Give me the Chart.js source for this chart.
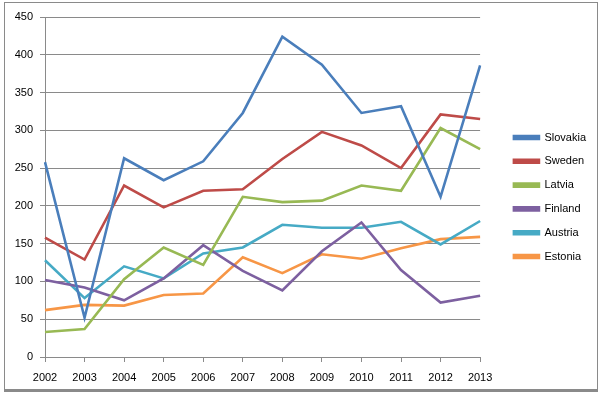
<!DOCTYPE html>
<html>
<head>
<meta charset="utf-8">
<script src="https://cdn.jsdelivr.net/npm/chart.js@4/dist/chart.umd.min.js"></script>
<style>
html,body{margin:0;padding:0;background:#fff;}
#wrap{position:relative;width:600px;height:393px;}
#frame{position:absolute;left:4px;top:2px;width:592px;height:386px;border:1px solid #8a8a8a;border-bottom:3px solid #8a8a8a;pointer-events:none;}
canvas{position:absolute;left:0;top:0;}
</style>
</head>
<body>
<div id="wrap">
<canvas id="c" width="600" height="393"></canvas>
<div id="frame"></div>
</div>
<script>
const years = ["2002","2003","2004","2005","2006","2007","2008","2009","2010","2011","2012","2013"];
const slovakia = [258, 52, 263, 234, 259, 323, 424, 387, 323, 332, 212, 386];
const sweden   = [158, 129, 227, 198, 220, 222, 262, 298, 280, 250, 321, 315];
const latvia   = [33, 37, 103, 145, 122, 212, 205, 207, 227, 220, 303, 275];
const finland  = [102, 92, 75, 104, 148, 114, 88, 140, 178, 115, 72, 81];
const austria  = [128, 78, 120, 104, 137, 145, 175, 171, 171, 179, 149, 180];
const estonia  = [62, 69, 68, 82, 84, 132, 111, 136, 130, 144, 156, 159];

const seriesNames = ["Slovakia","Sweden","Latvia","Finland","Austria","Estonia"];
const seriesData = [slovakia, sweden, latvia, finland, austria, estonia];
const seriesColors = ["#4A7EBB","#BE4B48","#98B954","#7D60A0","#46AAC5","#F79646"];

const FONT = "'Liberation Sans', Arial, sans-serif";

const shiftLegend = {
  id: 'shiftLegend',
  afterLayout(chart) {
    const lg = chart.legend;
    if (!lg) return;
    lg.left += 21; lg.right += 21;
    lg.top -= 8; lg.bottom -= 8;
  }
};

new Chart(document.getElementById('c'), {
  type: 'line',
  data: {
    labels: years,
    datasets: seriesNames.map((n,i)=>({
      label: n,
      data: seriesData[i],
      borderColor: seriesColors[i],
      backgroundColor: seriesColors[i],
      borderWidth: 2.6,
      pointRadius: 0,
      tension: 0,
      fill: false
    }))
  },
  options: {
    responsive: false,
    animation: false,
    layout: { padding: { left: 0, top: 17, right: 25, bottom: 0 } },
    plugins: {
      tooltip: { enabled: false },
      legend: {
        position: 'right',
        labels: {
          color: '#000',
          font: { family: FONT, size: 11 },
          boxWidth: 25,
          boxHeight: 3,
          padding: 12.8
        }
      }
    },
    scales: {
      x: {
        offset: false,
        afterFit(s) { s.height = 36; },
        grid: { display: true, drawOnChartArea: false, drawTicks: true, tickLength: 5, color: '#8a8a8a' },
        border: { display: false },
        ticks: { color: '#000', font: { family: FONT, size: 11 }, padding: 9, maxRotation: 0, autoSkip: false }
      },
      y: {
        min: 0, max: 450,
        afterFit(s) { s.width = 45; },
        grid: { color: '#8a8a8a', lineWidth: 1, tickLength: 5, drawTicks: true },
        border: { display: true, color: '#8a8a8a' },
        ticks: { stepSize: 50, color: '#000', font: { family: FONT, size: 11 }, padding: 7 }
      }
    }
  },
  plugins: [shiftLegend]
});
</script>
</body>
</html>
